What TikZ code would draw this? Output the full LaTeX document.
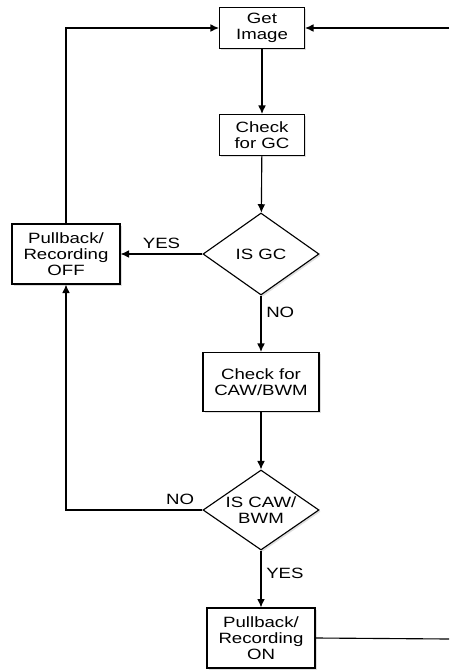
\documentclass[tikz,border=0pt]{standalone}
\usepackage{fontspec}
\setmainfont{Liberation Sans}[FakeStretch=1.25]
\usetikzlibrary{shapes.geometric, arrows.meta, shadows}

\begin{document}
\begin{tikzpicture}[x=0.025cm, y=-0.025cm, thick, > = {Latex[length=6pt, width=5.5pt]},
		every node/.style={font=\fontsize{10.6}{11.2}\selectfont, align=center},
		box/.style={draw, fill=white, inner sep=0pt,
			drop shadow={shadow xshift=1.2pt, shadow yshift=-1.2pt, opacity=0.25}},
		test/.style={box, diamond, aspect=1.4}]
	\useasboundingbox (0,0) rectangle (449,672);
	
	% main column
	\node [box, minimum width=2.125cm, minimum height=1.025cm] (get) at (262,28) {Get\\Image};
	\node [box, minimum width=2.125cm, minimum height=1.025cm] (chkgc) at (262,135) {Check\\for GC};
	\node [test, minimum width=2.9cm, minimum height=2.05cm] (isgc) at (261,254) {IS GC};
	\node [box, minimum width=2.9cm, minimum height=1.475cm] (chkcaw) at (261,382) {Check for\\CAW/BWM};
	\node [test, minimum width=2.9cm, minimum height=2cm] (iscaw) at (261,510) {IS CAW/\\BWM};
	\node [box, minimum width=2.7cm, minimum height=1.5cm] (on) at (261,638) {Pullback/\\Recording\\ON};
	
	% side box
	\node [box, minimum width=2.7cm, minimum height=1.5cm] (off) at (66,254) {Pullback/\\Recording\\OFF};
	
	% free ends on the right
	\coordinate (inR) at (449,28);
	\coordinate (outR) at (449,639);
	
	% connectors
	\draw [->] (get) -- (chkgc);
	\draw [->] (chkgc) -- (isgc);
	\draw [->] (isgc.west) -- node [above, pos=0.5] {YES} (off.east);
	\draw [->] (isgc.south) -- node [right, pos=0.3] {NO} (chkcaw.north);
	\draw [->] (chkcaw) -- (iscaw);
	\draw [->] (iscaw.south) -- node [right, pos=0.4] {YES} (on.north);
	\draw [->] (iscaw.west) -- node [above, pos=0.3] {NO} ++(-74,0) -| (off.south);
	\draw [->] (off.north) |- (get.west);
	\draw [->] (inR) -- (get.east);
	\draw (on.east) -- (outR);
\end{tikzpicture}
\end{document}
